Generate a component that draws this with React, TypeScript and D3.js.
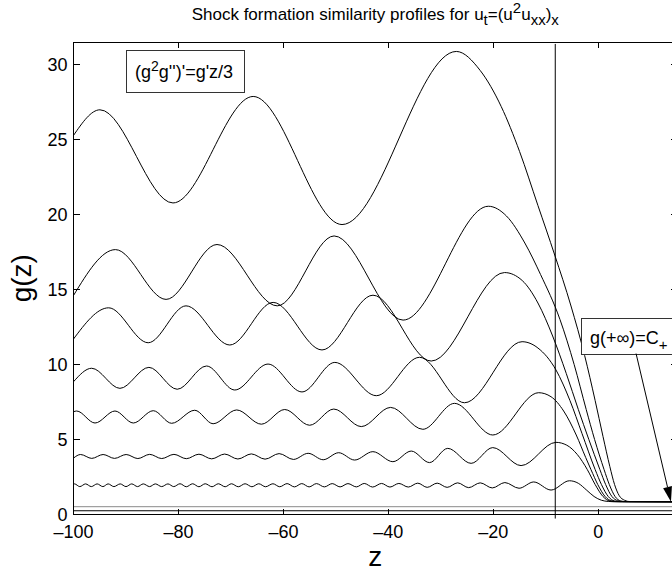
import React from 'react';
import * as d3 from 'd3';

type Pt = [number, number];

// axis ticks
const zTicks = [-100, -80, -60, -40, -20, 0, 20];
const gTicks = [0, 5, 10, 15, 20, 25, 30];

// similarity profiles g(z) (extrema + descent points)
const profileTop: Pt[] = [
  [-100, 25.27], [-94.96, 26.98], [-81.05, 20.77], [-65.76, 27.87], [-48.83, 19.33], [-27.05, 30.87],
  [-22.5, 29.6], [-18.5, 27.2], [-15, 24.2], [-11.5, 20.6], [-8.3, 17.3], [-5.2, 13.9], [-2.6, 10.6],
  [-0.6, 7.6], [0.9, 5.2], [2.2, 3.2], [3.1, 2.0], [4.0, 1.25], [5.0, 0.95], [6.0, 0.86], [15, 0.85],
];

const profileA: Pt[] = [
  [-100, 14.6], [-92.0, 17.66], [-82.36, 14.34], [-72.65, 18.0], [-61.17, 13.91], [-50.34, 18.57],
  [-37.2, 12.96], [-20.94, 20.55], [-17.5, 19.9], [-14, 18.1], [-11, 16.0], [-7.3, 13.0], [-4.6, 10.0],
  [-2.3, 7.0], [-0.7, 5.0], [1.1, 3.0], [2.1, 2.0], [3.2, 1.2], [4.3, 0.9], [5.3, 0.86], [15, 0.85],
];

const profileB: Pt[] = [
  [-100, 11.7], [-93.3, 13.78], [-85.77, 11.45], [-78.56, 13.91], [-70.22, 11.3], [-61.96, 14.14],
  [-52.65, 10.97], [-42.93, 14.62], [-31.84, 10.23], [-17.86, 16.13], [-14.5, 15.6], [-11.5, 14.1],
  [-8.7, 11.9], [-6.1, 9.4], [-3.8, 7.0], [-1.8, 5.0], [0.3, 3.0], [1.4, 2.0], [2.6, 1.2],
  [3.7, 0.92], [4.8, 0.86], [15, 0.85],
];

const profileC: Pt[] = [
  [-100, 8.85], [-96.54, 9.75], [-91.15, 8.41], [-85.63, 9.81], [-80.24, 8.35], [-74.66, 9.9],
  [-69.27, 8.3], [-62.93, 10.03], [-56.46, 8.17], [-50.2, 10.14], [-42.3, 7.92], [-34.06, 10.48],
  [-25.5, 7.45], [-14.52, 11.52], [-11.5, 11.1], [-8.05, 9.63], [-5.4, 7.6], [-3.1, 5.4],
  [-0.6, 3.0], [0.6, 2.0], [1.9, 1.2], [3.1, 0.9], [4.2, 0.86], [15, 0.85],
];

const profileD: Pt[] = [
  [-100, 6.85], [-99.4, 6.9], [-95.9, 6.1], [-92.1, 6.9], [-88.6, 6.1], [-84.8, 6.92], [-81.3, 6.08],
  [-76.9, 6.95], [-73.4, 6.05], [-68.9, 6.97], [-64.2, 6.02], [-59.75, 7.0], [-55.0, 5.95],
  [-50.4, 7.03], [-45.16, 5.86], [-39.58, 7.14], [-33.43, 5.68], [-27.4, 7.41], [-20.1, 5.3],
  [-11.36, 8.12], [-9, 7.85], [-6.6, 6.9], [-4.2, 5.3], [-2.4, 3.8], [-1.4, 3.0], [-0.1, 2.0],
  [1.3, 1.2], [2.6, 0.9], [3.8, 0.86], [15, 0.85],
];

const profileE: Pt[] = [
  [-100, 3.76], [-98.65, 4.0], [-96.52, 3.74], [-94.36, 4.0], [-92.18, 3.74], [-89.97, 4.0],
  [-87.74, 3.73], [-85.48, 4.01], [-83.19, 3.73], [-80.86, 4.01], [-78.5, 3.72], [-76.1, 4.02],
  [-73.67, 3.71], [-71.2, 4.03], [-68.68, 3.7], [-66.11, 4.04], [-63.49, 3.69], [-60.82, 4.06],
  [-58.09, 3.67], [-55.29, 4.08], [-52.42, 3.65], [-49.47, 4.12], [-46.43, 3.63], [-42.95, 4.19],
  [-39.14, 3.52], [-35.64, 4.23], [-32.16, 3.46], [-28.68, 4.41], [-24.23, 3.41], [-20.11, 4.46],
  [-14.71, 3.26], [-8.05, 4.81], [-6, 4.62], [-4, 4.0], [-2.1, 3.0], [-0.6, 2.0], [0.9, 1.2],
  [2.2, 0.9], [3.4, 0.86], [15, 0.85],
];

const profileF: Pt[] = [
  [-100, 2.03], [-99.8, 2.04], [-98.8, 1.86], [-97.7, 2.04], [-96.6, 1.86], [-95.5, 2.04], [-94.4, 1.86],
  [-93.4, 2.04], [-92.3, 1.86], [-91.1, 2.04], [-90.0, 1.86], [-88.9, 2.04], [-87.8, 1.86], [-86.7, 2.04],
  [-85.5, 1.86], [-84.4, 2.04], [-83.2, 1.86], [-82.0, 2.04], [-80.9, 1.86], [-79.7, 2.05], [-78.5, 1.85],
  [-77.3, 2.05], [-76.1, 1.85], [-74.9, 2.05], [-73.6, 1.85], [-72.4, 2.05], [-71.1, 1.85], [-69.9, 2.05],
  [-68.6, 1.85], [-67.3, 2.05], [-66.0, 1.85], [-64.7, 2.05], [-63.4, 1.85], [-62.0, 2.05], [-60.7, 1.85],
  [-59.3, 2.06], [-57.9, 1.84], [-56.5, 2.06], [-55.1, 1.84], [-53.7, 2.06], [-52.2, 1.84], [-50.7, 2.06],
  [-49.2, 1.84], [-47.7, 2.06], [-46.1, 1.84], [-44.6, 2.07], [-43.0, 1.83], [-41.3, 2.07], [-39.7, 1.83],
  [-38.0, 2.07], [-36.2, 1.83], [-34.4, 2.09], [-32.6, 1.81], [-30.7, 2.09], [-28.8, 1.81], [-26.8, 2.11],
  [-24.7, 1.79], [-22.5, 2.11], [-20.2, 1.77], [-17.8, 2.13], [-15.1, 1.75], [-12.3, 2.17], [-9.0, 1.63],
  [-5.5, 2.25], [-3.8, 2.08], [-2.3, 1.65], [-0.8, 1.2], [0.6, 0.95], [1.9, 0.87], [3, 0.85], [15, 0.85],
];

const profiles = [profileTop, profileA, profileB, profileC, profileD, profileE, profileF];

// constant solutions g = C
const flatLevels = [0.52, 0.25];
const flatColors = ['#8a8a8a', '#000'];

// marker line z = -8.2 and the arrow to g(+inf)
const markerZ = -8.2;
const markerG: [number, number] = [-0.27, 31.37];
const arrowFrom: Pt = [7.2, 10.73];
const arrowTo: Pt = [13.85, 0.85];

const FONT = '"Liberation Sans", Arial, Helvetica, sans-serif';

const W = 672;
const H = 577;
const plot = { left: 73.5, right: 677, top: 42, bottom: 514.5 };

export default function App() {
  const x = d3.scaleLinear().domain([-100, 15]).range([plot.left, plot.right]);
  const y = d3.scaleLinear().domain([0, 31.5]).range([plot.bottom, plot.top]);

  const line = d3.line<Pt>()
    .x(d => x(d[0]))
    .y(d => y(d[1]))
    .curve(d3.curveMonotoneX);

  const tickLen = 6;

  // arrow head
  const ax0 = x(arrowFrom[0]), ay0 = y(arrowFrom[1]);
  const ax1 = x(arrowTo[0]), ay1 = y(arrowTo[1]);
  const ang = Math.atan2(ay1 - ay0, ax1 - ax0);
  const headL = 15, headW = 4.5;
  const bx = ax1 - headL * Math.cos(ang), by = ay1 - headL * Math.sin(ang);
  const head = [
    [ax1, ay1],
    [bx + headW * Math.sin(ang), by - headW * Math.cos(ang)],
    [bx - headW * Math.sin(ang), by + headW * Math.cos(ang)],
  ].map(p => p.join(',')).join(' ');

  return (
    <svg width={W} height={H} style={{ position: 'absolute', left: 0, top: 0, background: '#fff' }}
      fontFamily={FONT}>
      <defs>
        <clipPath id="plot-clip">
          <rect x={plot.left} y={plot.top} width={plot.right - plot.left} height={plot.bottom - plot.top} />
        </clipPath>
      </defs>

      {/* title */}
      <text x={(plot.left + plot.right) / 2} y={20} textAnchor="middle" fontSize={17}>
        Shock formation similarity profiles for u
        <tspan dy={5} fontSize={15}>t</tspan>
        <tspan dy={-5}>=(u</tspan>
        <tspan dy={-7} fontSize={15}>2</tspan>
        <tspan dy={7}>u</tspan>
        <tspan dy={5} fontSize={15}>xx</tspan>
        <tspan dy={-5}>)</tspan>
        <tspan dy={5} fontSize={15}>x</tspan>
      </text>

      {/* curves */}
      <g clipPath="url(#plot-clip)" fill="none" strokeWidth={1}>
        {flatLevels.map((lv, i) => (
          <line key={'f' + i} x1={x(-100)} x2={x(15)} y1={y(lv)} y2={y(lv)} stroke={flatColors[i]} />
        ))}
        {profiles.map((p, i) => (
          <path key={i} d={line(p) || ''} stroke="#000" />
        ))}
      </g>

      {/* vertical marker */}
      <line x1={x(markerZ)} x2={x(markerZ)} y1={y(markerG[0])} y2={y(markerG[1])} stroke="#000" strokeWidth={1} />

      {/* axes box */}
      <rect x={plot.left} y={plot.top} width={plot.right - plot.left} height={plot.bottom - plot.top}
        fill="none" stroke="#000" strokeWidth={1} shapeRendering="crispEdges" />

      {/* ticks */}
      <g shapeRendering="crispEdges" stroke="#000">
        {zTicks.map(t => (
          <g key={'x' + t}>
            <line x1={x(t)} x2={x(t)} y1={plot.bottom} y2={plot.bottom - tickLen} />
            <line x1={x(t)} x2={x(t)} y1={plot.top} y2={plot.top + tickLen} />
          </g>
        ))}
        {gTicks.map(t => (
          <g key={'y' + t}>
            <line x1={plot.left} x2={plot.left + tickLen} y1={y(t)} y2={y(t)} />
            <line x1={plot.right} x2={plot.right - tickLen} y1={y(t)} y2={y(t)} />
          </g>
        ))}
      </g>
      <g fontSize={18} fill="#000">
        {zTicks.filter(t => t <= 0).map(t => (
          <text key={'xl' + t} x={x(t)} y={plot.bottom + 23.5} textAnchor="middle">
            {t < 0 ? '\u2013' + Math.abs(t) : String(t)}
          </text>
        ))}
        {gTicks.map(t => (
          <text key={'yl' + t} x={plot.left - 6} y={y(t) + 6.5} textAnchor="end">{t}</text>
        ))}
      </g>

      {/* axis labels */}
      <text x={(plot.left + plot.right) / 2} y={566} textAnchor="middle" fontSize={28}>z</text>
      <text transform={`translate(31, ${(plot.top + plot.bottom) / 2}) rotate(-90)`} textAnchor="middle" fontSize={28}>g(z)</text>

      {/* equation box */}
      <rect x={126.5} y={50.5} width={118} height={42} fill="#fff" stroke="#333" strokeWidth={1} />
      <text x={135} y={78} fontSize={18}>
        (g<tspan dy={-7} fontSize={14}>2</tspan><tspan dy={7}>g'')'=g'z/3</tspan>
      </text>

      {/* boundary condition box + arrow */}
      <rect x={581.5} y={318.5} width={110} height={36} fill="#fff" stroke="#333" strokeWidth={1} />
      <text x={590} y={344} fontSize={18}>
        g(+∞)=C<tspan dy={6} fontSize={15}>+</tspan>
      </text>
      <line x1={ax0} y1={ay0} x2={bx} y2={by} stroke="#000" strokeWidth={1} />
      <polygon points={head} fill="#000" />
    </svg>
  );
}
